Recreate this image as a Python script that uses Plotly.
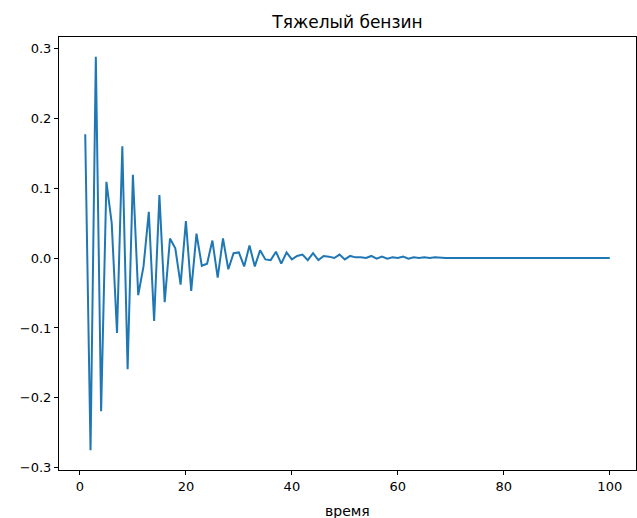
import plotly.graph_objects as go

# Time steps and response values of the heavy-naphtha series
time_steps = list(range(1, 101))
response = [
    0.177, -0.275, 0.288, -0.219, 0.109, 0.050, -0.107, 0.160, -0.159, 0.119,
    -0.053, -0.012, 0.066, -0.090, 0.090, -0.063, 0.028, 0.014, -0.038, 0.053,
    -0.047, 0.035, -0.011, -0.008, 0.025, -0.028, 0.028, -0.016, 0.007, 0.008,
    -0.012, 0.018, -0.012, 0.011, -0.002, -0.003, 0.009, -0.008, 0.008, -0.002,
    0.003, 0.005, -0.003, 0.007, -0.003, 0.003, 0.002, 0.000, 0.005, -0.002,
    0.003, 0.001, 0.001, 0.000, 0.003, -0.001, 0.002, -0.001, 0.001, 0.000,
    0.002, -0.001, 0.001, 0.000, 0.001, 0.000, 0.001, 0.000, 0.000, 0.000,
    0.000, 0.000, 0.0005, 0.000, 0.000, 0.000, 0.000, 0.0005, 0.000, 0.000,
    0.000, 0.000, 0.000, 0.000, 0.0005, 0.000, 0.000, 0.000, 0.000, 0.000,
    0.000, 0.000, 0.000, 0.000, 0.000, 0.000, 0.000, 0.000, 0.000, 0.000,
]

x_ticks = [0, 20, 40, 60, 80, 100]
y_ticks = [-0.3, -0.2, -0.1, 0.0, 0.1, 0.2, 0.3]

title_text = "Тяжелый бензин"
x_label = "время"

# 5% padding around the data, like matplotlib's default autoscale
x_pad = 0.05 * (max(time_steps) - min(time_steps))
y_pad = 0.05 * (max(response) - min(response))
x_range = [min(time_steps) - x_pad, max(time_steps) + x_pad]
y_range = [min(response) - y_pad, max(response) + y_pad]

font_family = "DejaVu Sans"
margin_left, margin_right = 59, 1
fig_width, fig_height = 637, 518

fig = go.Figure(
    go.Scatter(
        x=time_steps,
        y=response,
        mode="lines",
        line=dict(color="#1f77b4", width=2),
        showlegend=False,
    )
)

axis_common = dict(
    showgrid=False,
    zeroline=False,
    showline=True,
    linecolor="black",
    linewidth=1,
    mirror=True,
    ticks="outside",
    ticklen=4,
    tickwidth=1,
    tickcolor="black",
    tickfont=dict(family=font_family, size=13, color="black"),
)

fig.update_xaxes(range=x_range, tickvals=x_ticks,
                 ticktext=[str(v) for v in x_ticks], **axis_common)
fig.update_yaxes(range=y_range, tickvals=y_ticks, tickformat=".1f",
                 **axis_common)

# title centred over the plotting area rather than the whole figure
plot_centre = (margin_left + (fig_width - margin_right)) / 2 / fig_width

fig.update_layout(
    width=fig_width,
    height=fig_height,
    margin=dict(l=margin_left, r=margin_right, t=37, b=48),
    plot_bgcolor="white",
    paper_bgcolor="white",
    title=dict(
        text=title_text,
        x=plot_centre,
        xanchor="center",
        yref="container",
        y=1 - 22 / fig_height,
        yanchor="middle",
        font=dict(family=font_family, size=17, color="black"),
    ),
    annotations=[
        dict(
            text=x_label,
            xref="paper",
            yref="paper",
            x=0.5,
            y=-0.095,
            xanchor="center",
            yanchor="middle",
            showarrow=False,
            font=dict(family=font_family, size=14, color="black"),
        )
    ],
)

fig.write_html("out.html")
